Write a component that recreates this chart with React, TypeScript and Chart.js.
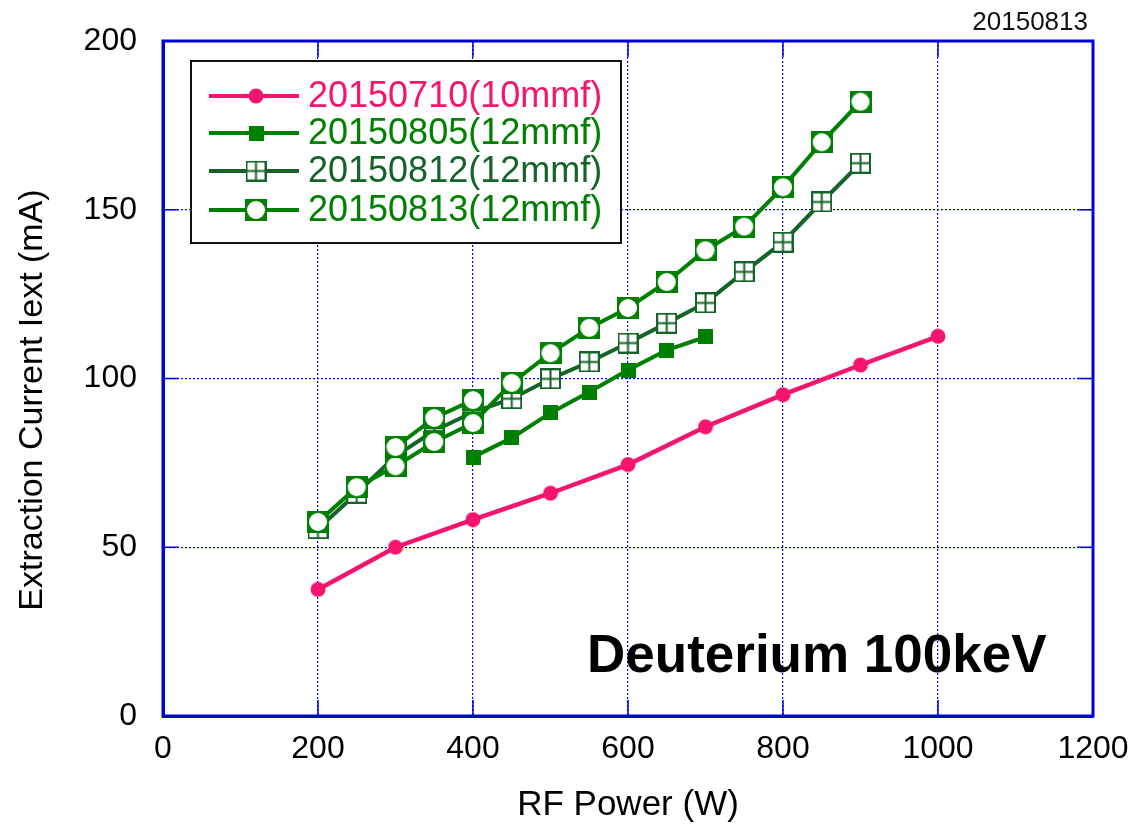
import React, { useEffect, useRef } from 'react';
import { Chart, registerables } from 'chart.js';

Chart.register(...registerables);

// ---------- data ----------
const xTicks = [0, 200, 400, 600, 800, 1000, 1200];
const yTicks = [0, 50, 100, 150, 200];

const labels = ['20150710(10mmf)', '20150805(12mmf)', '20150812(12mmf)', '20150813(12mmf)'];

const s0710X = [200, 300, 400, 500, 600, 700, 800, 900, 1000];
const s0710Y = [37.5, 50, 58.2, 66, 74.5, 85.7, 95.2, 104, 112.5];

const s0805X = [400, 450, 500, 550, 600, 650, 700];
const s0805Y = [76.7, 82.4, 89.8, 96, 102.5, 108.4, 112.3];

const s0812X = [200, 250, 300, 350, 400, 450, 500, 550, 600, 650, 700, 750, 800, 850, 900];
const s0812Y = [55.5, 66, 77, 84.5, 90, 94, 99.9, 104.9, 110.5, 116.4, 122.4, 131.6, 140.4, 152.3, 163.8];

const s0813X = [200, 250, 300, 350, 400, 450, 500, 550, 600, 650, 700, 750, 800, 850, 900];
const s0813Y = [57.5, 67.8, 74, 81.2, 86.8, 98.7, 107.5, 115, 120.9, 128.6, 138, 145, 156.7, 170, 182];
// second (repeated) run of 20150813 at low power
const s0813bX = [300, 350, 400];
const s0813bY = [79.7, 88.3, 93.6];

const annotation = 'Deuterium 100keV';
const stamp = '20150813';
const xTitle = 'RF Power (W)';
const yTitle = 'Extraction Current Iext (mA)';

// ---------- styles ----------
const PINK = '#f5146e';
const GREEN = '#008000';
const DKGREEN = '#146428';
const BLUE = '#0000dd';
const FONT = "'Liberation Sans', Arial, sans-serif";

function mk(w: number, h: number, draw: (c: CanvasRenderingContext2D) => void) {
  const cv = document.createElement('canvas');
  cv.width = w;
  cv.height = h;
  const c = cv.getContext('2d')!;
  draw(c);
  return cv;
}

export default function App() {
  const ref = useRef<HTMLCanvasElement>(null);

  useEffect(() => {
    document.body.style.margin = '0';
    const pinkDot = mk(16, 16, (c) => {
      c.fillStyle = PINK;
      c.beginPath();
      c.arc(8, 8, 7.5, 0, Math.PI * 2);
      c.fill();
    });
    const filledSq = mk(15, 15, (c) => {
      c.fillStyle = GREEN;
      c.fillRect(0, 0, 15, 15);
    });
    const crossSq = mk(21, 21, (c) => {
      c.fillStyle = '#fff';
      c.fillRect(0, 0, 21, 21);
      c.strokeStyle = DKGREEN;
      c.lineWidth = 2;
      c.strokeRect(1, 1, 19, 19);
      c.beginPath();
      c.moveTo(10.5, 1);
      c.lineTo(10.5, 20);
      c.moveTo(1, 10.5);
      c.lineTo(20, 10.5);
      c.stroke();
    });
    const circSq = mk(22, 22, (c) => {
      c.fillStyle = GREEN;
      c.fillRect(0, 0, 22, 22);
      c.fillStyle = '#fff';
      c.beginPath();
      c.arc(11, 11, 9, 0, Math.PI * 2);
      c.fill();
    });

    const pts = (xs: number[], ys: number[]) => xs.map((x, i) => ({ x, y: ys[i] as number | null }));
    const d0813 = [
      ...pts(s0813X, s0813Y),
      { x: s0813bX[0], y: null },
      ...pts(s0813bX, s0813bY),
    ];

    const markers = [pinkDot, filledSq, crossSq, circSq];
    const colors = [PINK, GREEN, DKGREEN, GREEN];
    const textColors = [PINK, GREEN, DKGREEN, GREEN];

    const frame = {
      id: 'frame',
      afterDatasetsDraw(chart: any) {
        const { ctx, chartArea: a, scales } = chart;
        ctx.save();
        // inward ticks
        ctx.strokeStyle = BLUE;
        ctx.lineWidth = 1.5;
        const L = 16;
        ctx.beginPath();
        xTicks.forEach((v) => {
          const px = scales.x.getPixelForValue(v);
          ctx.moveTo(px, a.bottom);
          ctx.lineTo(px, a.bottom - L);
          ctx.moveTo(px, a.top);
          ctx.lineTo(px, a.top + L);
        });
        yTicks.forEach((v) => {
          const py = scales.y.getPixelForValue(v);
          ctx.moveTo(a.left, py);
          ctx.lineTo(a.left + L, py);
          ctx.moveTo(a.right, py);
          ctx.lineTo(a.right - L, py);
        });
        ctx.stroke();
        // frame
        ctx.lineWidth = 3;
        ctx.strokeRect(a.left, a.top, a.right - a.left, a.bottom - a.top);

        // legend box
        const bx = 191, by = 61, bw = 430, bh = 182;
        ctx.fillStyle = '#fff';
        ctx.fillRect(bx, by, bw, bh);
        ctx.strokeStyle = '#111';
        ctx.lineWidth = 2;
        ctx.strokeRect(bx, by, bw, bh);
        const rowsY = [96, 133, 171, 210];
        ctx.font = `36px ${FONT}`;
        ctx.textBaseline = 'middle';
        ctx.textAlign = 'left';
        labels.forEach((lab, i) => {
          const y = rowsY[i];
          ctx.strokeStyle = colors[i];
          ctx.lineWidth = 4;
          ctx.beginPath();
          ctx.moveTo(209, y);
          ctx.lineTo(299, y);
          ctx.stroke();
          const m = markers[i];
          ctx.drawImage(m, 256 - m.width / 2, y - m.height / 2);
          ctx.fillStyle = textColors[i];
          ctx.fillText(lab, 308, y + 1);
        });

        // annotation text
        ctx.fillStyle = '#000';
        ctx.font = `bold 53px ${FONT}`;
        ctx.textBaseline = 'alphabetic';
        ctx.fillText(annotation, 587, 672);

        ctx.font = `26px ${FONT}`;
        ctx.textAlign = 'right';
        ctx.fillStyle = '#111';
        ctx.fillText(stamp, 1088, 30);

        // y-axis title
        ctx.save();
        ctx.translate(33, 400);
        ctx.rotate(-Math.PI / 2);
        ctx.textAlign = 'center';
        ctx.textBaseline = 'middle';
        ctx.fillStyle = '#000';
        ctx.font = `34px ${FONT}`;
        ctx.fillText(yTitle, 0, 0);
        ctx.restore();
        ctx.restore();
      },
    };

    const fmt = (v: any) => String(v);

    const chart = new Chart(ref.current!, {
      type: 'line',
      data: {
        datasets: [
          {
            label: labels[3],
            data: d0813,
            borderColor: GREEN,
            borderWidth: 4,
            pointStyle: circSq,
            pointRadius: 11,
            order: 0,
          },
          {
            label: labels[2],
            data: pts(s0812X, s0812Y),
            borderColor: DKGREEN,
            borderWidth: 4,
            pointStyle: crossSq,
            pointRadius: 11,
            order: 1,
          },
          {
            label: labels[1],
            data: pts(s0805X, s0805Y),
            borderColor: GREEN,
            borderWidth: 4,
            pointStyle: filledSq,
            pointRadius: 8,
            order: 2,
          },
          {
            label: labels[0],
            data: pts(s0710X, s0710Y),
            borderColor: PINK,
            borderWidth: 4.5,
            pointStyle: pinkDot,
            pointRadius: 8,
            order: 3,
          },
        ] as any,
      },
      options: {
        animation: false,
        responsive: true,
        maintainAspectRatio: false,
        spanGaps: false,
        layout: { padding: { top: 41, right: 45, left: 0, bottom: 0 } },
        plugins: { legend: { display: false }, tooltip: { enabled: false } },
        elements: { line: { tension: 0 } },
        scales: {
          x: {
            type: 'linear',
            min: 0,
            max: 1200,
            afterBuildTicks: (s: any) => {
              s.ticks = xTicks.map((v) => ({ value: v }));
            },
            afterFit: (s: any) => {
              s.height = 116;
              s.paddingLeft = 0;
              s.paddingRight = 0;
              s.paddingTop = 0;
              s.paddingBottom = 0;
            },
            ticks: {
              color: '#000',
              font: { family: FONT, size: 32 },
              padding: 14,
              maxRotation: 0,
              minRotation: 0,
              callback: fmt,
            },
            grid: {
              color: '#0000ff',
              lineWidth: 1.2,
              drawTicks: false,
            },
            border: { display: true, color: BLUE, width: 3, dash: [2, 2] },
            title: {
              display: true,
              text: xTitle,
              color: '#000',
              font: { family: FONT, size: 35 },
              padding: { top: 0, bottom: 6 },
            },
          },
          y: {
            type: 'linear',
            min: 0,
            max: 200,
            afterBuildTicks: (s: any) => {
              s.ticks = yTicks.map((v) => ({ value: v }));
            },
            afterFit: (s: any) => {
              s.width = 163;
              s.paddingLeft = 0;
              s.paddingRight = 0;
              s.paddingTop = 0;
              s.paddingBottom = 0;
            },
            ticks: {
              color: '#000',
              font: { family: FONT, size: 32 },
              padding: 26,
              callback: fmt,
            },
            grid: {
              color: '#0000ff',
              lineWidth: 1.2,
              drawTicks: false,
            },
            border: { display: true, color: BLUE, width: 3, dash: [2, 2] },
            title: { display: false },
          },
        },
      } as any,
      plugins: [frame],
    });
    return () => chart.destroy();
  }, []);

  return (
    <div style={{ width: 1138, height: 832, position: 'relative' }}>
      <canvas ref={ref} />
    </div>
  );
}
